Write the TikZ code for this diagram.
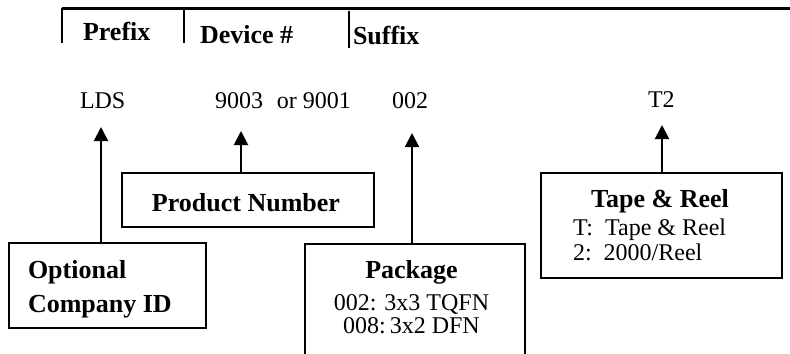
\documentclass[tikz,border=0pt]{standalone}
\usepackage{fontspec}
\setmainfont{Liberation Serif}
\usetikzlibrary{arrows.meta}
\begin{document}
\begin{tikzpicture}[x=1bp,y=-1bp,
  txt/.style={inner sep=0pt,outer sep=0pt,font=\fontsize{24bp}{28bp}\selectfont},
  btxt/.style={txt,font=\fontsize{26bp}{30bp}\selectfont\bfseries},
  boxshape/.style={draw,line width=2bp,inner sep=0pt,outer sep=0pt},
  uparrow/.style={line width=2bp,-{Triangle[width=14bp,length=14bp]}},
  hdr/.style={line width=2bp},
]
\useasboundingbox (0,0) rectangle (790,353);
% header
\coordinate (h0) at (62,8);
\coordinate (h1) at (790,8);
\draw[line width=3bp] (h0) -- (h1);
\coordinate (v1a) at (62,8);  \coordinate (v1b) at (62,43);
\coordinate (v2a) at (184,9); \coordinate (v2b) at (184,43);
\coordinate (v3a) at (349,11); \coordinate (v3b) at (349,48);
\draw[hdr] (v1a) -- (v1b);
\draw[hdr] (v2a) -- (v2b);
\draw[hdr] (v3a) -- (v3b);
\node[btxt,anchor=base west] (prefix) at (83,40) {Prefix};
\node[btxt,anchor=base west] (device) at (200,43) {Device \#};
\node[btxt,anchor=base west] (suffix) at (353,44) {Suffix};
% part number
\node[txt,anchor=base west] (lds) at (80,108) {LDS};
\node[txt,anchor=base west] (num) at (215,108) {9003\hspace{14bp}or 9001};
\node[txt,anchor=base west] (pkg) at (392,108) {002};
\node[txt,anchor=base west] (tr) at (648,107) {T2};
% boxes
\node[boxshape,minimum width=197bp,minimum height=85bp,anchor=north west] (company) at (9,243) {};
\node[btxt,anchor=base west] (company1) at (28,278) {Optional};
\node[btxt,anchor=base west] (company2) at (28,312) {Company ID};

\node[boxshape,minimum width=252bp,minimum height=54bp,anchor=north west] (product) at (122,173) {};
\node[btxt,anchor=base] (product1) at (246,211) {Product Number};

\node[boxshape,minimum width=220bp,minimum height=125bp,anchor=north west] (package) at (305,244) {};
\node[btxt,anchor=base] (package1) at (411.5,278) {Package};
\node[txt,anchor=base] (package2) at (411.5,310) {002: 3x3 TQFN};
\node[txt,anchor=base] (package3) at (411.5,333) {008:\,3x2 DFN};

\node[boxshape,minimum width=241bp,minimum height=105bp,anchor=north west] (tape) at (541,173) {};
\node[btxt,anchor=base] (tape1) at (660,207) {Tape \& Reel};
\node[txt,anchor=base west] (tape2) at (573,235) {T:\ \ Tape \& Reel};
\node[txt,anchor=base west] (tape3) at (573,260) {2:\ \ 2000/Reel};
% arrows
\coordinate (t1) at (101,127);
\coordinate (t2) at (241,131);
\coordinate (t3) at (412,133);
\coordinate (t4) at (662,125);
\draw[uparrow] (t1 |- company.north) -- (t1);
\draw[uparrow] (t2 |- product.north) -- (t2);
\draw[uparrow] (t3 |- package.north) -- (t3);
\draw[uparrow] (t4 |- tape.north) -- (t4);
\end{tikzpicture}
\end{document}
